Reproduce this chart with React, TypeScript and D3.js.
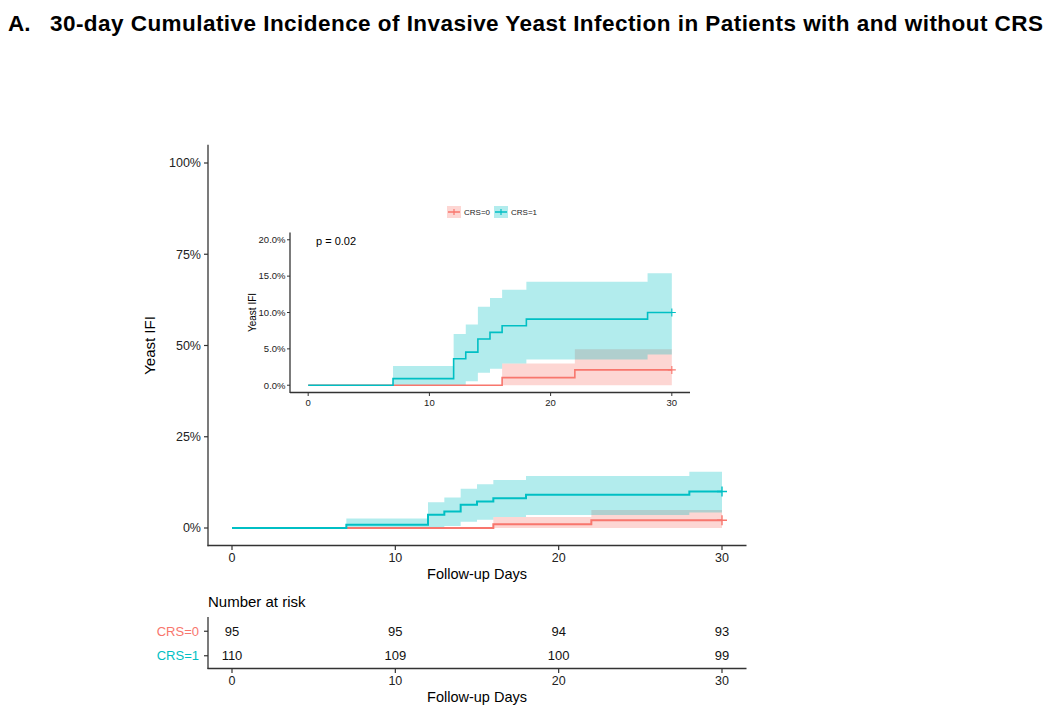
import React from "react";
import * as d3 from "d3";

// ---- data ----
const crs1Times = [0, 7, 12, 13, 14, 15, 16, 18, 28, 30];
const crs1Est = [0, 0.91, 3.64, 4.55, 6.36, 7.27, 8.18, 9.09, 10.0, 10.0];
const crs1Upper = [0, 2.63, 7.05, 8.34, 10.78, 11.98, 13.13, 14.24, 15.39, 15.39];
const crs1Lower = [0, 0, 0, 0.55, 1.7, 2.26, 3.0, 3.55, 4.24, 4.24];

const crs0Times = [0, 16, 22, 30];
const crs0Est = [0, 1.05, 2.11, 2.11];
const crs0Upper = [0, 3.0, 4.93, 4.93];
const crs0Lower = [0, 0, 0, 0];

const groups = ["CRS=0", "CRS=1"];
const colors = ["#F8766D", "#00BFC4"];
const riskTimes = [0, 10, 20, 30];
const risk0 = [95, 95, 94, 93];
const risk1 = [110, 109, 100, 99];
const xTicks = [0, 10, 20, 30];
const mainYTicks = [0, 25, 50, 75, 100];
const insetYTicks = [0, 5, 10, 15, 20];

const FONT = "'Liberation Sans', Arial, sans-serif";
const AX = "#333333";

type Pt = { t: number; e: number; lo: number; hi: number };
const mk = (t: number[], e: number[], lo: number[], hi: number[]): Pt[] =>
  t.map((v, i) => ({ t: v, e: e[i], lo: lo[i], hi: hi[i] }));
const series = [
  mk(crs0Times, crs0Est, crs0Lower, crs0Upper),
  mk(crs1Times, crs1Est, crs1Lower, crs1Upper),
];

function KM({
  x,
  y,
  lw,
  plus,
}: {
  x: d3.ScaleLinear<number, number>;
  y: d3.ScaleLinear<number, number>;
  lw: number;
  plus: number;
}) {
  const area = d3
    .area<Pt>()
    .x((d) => x(d.t))
    .y0((d) => y(d.lo))
    .y1((d) => y(d.hi))
    .curve(d3.curveStepAfter);
  const line = d3
    .line<Pt>()
    .x((d) => x(d.t))
    .y((d) => y(d.e))
    .curve(d3.curveStepAfter);
  return (
    <g>
      {series.map((s, i) => (
        <path key={"a" + i} d={area(s) || ""} fill={colors[i]} fillOpacity={0.3} stroke="none" />
      ))}
      {series.map((s, i) => {
        const last = s[s.length - 1];
        const cx = x(last.t);
        const cy = y(last.e);
        return (
          <g key={"l" + i}>
            <path d={line(s) || ""} fill="none" stroke={colors[i]} strokeWidth={lw} />
            <path
              d={`M${cx - plus},${cy}H${cx + plus}M${cx},${cy - plus}V${cy + plus}`}
              stroke={colors[i]}
              strokeWidth={lw * 0.7}
            />
          </g>
        );
      })}
    </g>
  );
}

export default function App() {
  // main plot
  const mx = d3.scaleLinear().domain([-1.5, 31.5]).range([207.5, 746.5]);
  const my = d3.scaleLinear().domain([-5, 105]).range([546.25, 144.75]);
  // inset
  const ix = d3.scaleLinear().domain([-1.5, 31.5]).range([290, 690]);
  const iy = d3.scaleLinear().domain([-1, 21]).range([392.5, 232.5]);
  // risk table
  const ry = d3.scaleBand().domain(groups).range([619, 668]).padding(0);
  const riskRows = [risk0, risk1];

  return (
    <svg
      width={1050}
      height={715}
      style={{ position: "absolute", left: 0, top: 0, background: "#fff" }}
      fontFamily={FONT}
    >
      <rect width={1050} height={715} fill="#fff" />
      {/* title */}
      <text x={8} y={31} fontSize={22.5} fontWeight="bold" fill="#000">A.</text>
      <text
        x={50}
        y={31}
        fontSize={22.5}
        fontWeight="bold"
        fill="#000"
        textLength={993}
        lengthAdjust="spacing"
      >
        30-day Cumulative Incidence of Invasive Yeast Infection in Patients with and without CRS
      </text>

      {/* main plot */}
      <KM x={mx} y={my} lw={2} plus={5} />
      <line x1={208} x2={208} y1={144.75} y2={546.25} stroke={AX} strokeWidth={1.3} />
      <line x1={207.5} x2={746.5} y1={545.5} y2={545.5} stroke={AX} strokeWidth={1.3} />
      {mainYTicks.map((v) => (
        <g key={"my" + v}>
          <line x1={204} x2={208} y1={my(v)} y2={my(v)} stroke={AX} strokeWidth={1.2} />
          <text x={201} y={my(v)} dy="0.35em" textAnchor="end" fontSize={12.5} fill="#222">
            {v + "%"}
          </text>
        </g>
      ))}
      {xTicks.map((v) => (
        <g key={"mx" + v}>
          <line x1={mx(v)} x2={mx(v)} y1={546} y2={550} stroke={AX} strokeWidth={1.2} />
          <text x={mx(v)} y={562} textAnchor="middle" fontSize={12.5} fill="#222">
            {v}
          </text>
        </g>
      ))}
      <text x={477} y={579} textAnchor="middle" fontSize={14.5} fill="#000">Follow-up Days</text>
      <text
        transform={`translate(155,${my(50)}) rotate(-90)`}
        textAnchor="middle"
        fontSize={15}
        fill="#000"
      >
        Yeast IFI
      </text>

      {/* inset */}
      <g>
        <KM x={ix} y={iy} lw={1.6} plus={4} />
        <line x1={290} x2={290} y1={232.5} y2={393} stroke={AX} strokeWidth={1.3} />
        <line x1={290} x2={690} y1={392.5} y2={392.5} stroke={AX} strokeWidth={1.3} />
        {insetYTicks.map((v) => (
          <g key={"iy" + v}>
            <line x1={287} x2={290} y1={iy(v)} y2={iy(v)} stroke={AX} strokeWidth={1} />
            <text x={285.5} y={iy(v)} dy="0.35em" textAnchor="end" fontSize={9.5} fill="#222">
              {v.toFixed(1) + "%"}
            </text>
          </g>
        ))}
        {xTicks.map((v) => (
          <g key={"ix" + v}>
            <line x1={ix(v)} x2={ix(v)} y1={393} y2={396} stroke={AX} strokeWidth={1} />
            <text x={ix(v)} y={406} textAnchor="middle" fontSize={9.5} fill="#222">
              {v}
            </text>
          </g>
        ))}
        <text
          transform={`translate(255.5,${iy(10)}) rotate(-90)`}
          textAnchor="middle"
          fontSize={10}
          fill="#000"
        >
          Yeast IFI
        </text>
        <text x={316} y={244.5} fontSize={11} fill="#000">p = 0.02</text>
        {/* legend */}
        {groups.map((g, i) => {
          const kx = i === 0 ? 447 : 494;
          const tx = i === 0 ? 464 : 511;
          return (
            <g key={"lg" + g}>
              <rect x={kx} y={206} width={14} height={12} fill={colors[i]} fillOpacity={0.3} />
              <line x1={kx + 1} x2={kx + 13} y1={212} y2={212} stroke={colors[i]} strokeWidth={1.5} />
              <line x1={kx + 7} x2={kx + 7} y1={209} y2={215} stroke={colors[i]} strokeWidth={1.2} />
              <text x={tx} y={212} dy="0.35em" fontSize={8} fill="#222">
                {g}
              </text>
            </g>
          );
        })}
      </g>

      {/* risk table */}
      <text x={208} y={607} fontSize={15} fill="#000">Number at risk</text>
      <line x1={208} x2={208} y1={617} y2={669} stroke={AX} strokeWidth={1.3} />
      <line x1={207.5} x2={746.5} y1={668.5} y2={668.5} stroke={AX} strokeWidth={1.3} />
      {groups.map((g, i) => {
        const cy = (ry(g) || 0) + ry.bandwidth() / 2;
        return (
          <g key={"r" + g}>
            <line x1={204} x2={208} y1={cy} y2={cy} stroke={AX} strokeWidth={1.2} />
            <text x={199} y={cy} dy="0.35em" textAnchor="end" fontSize={13} fill={colors[i]}>
              {g}
            </text>
            {riskTimes.map((t, j) => (
              <text key={t} x={mx(t)} y={cy} dy="0.35em" textAnchor="middle" fontSize={13} fill="#111">
                {riskRows[i][j]}
              </text>
            ))}
          </g>
        );
      })}
      {xTicks.map((v) => (
        <g key={"rx" + v}>
          <line x1={mx(v)} x2={mx(v)} y1={669} y2={673} stroke={AX} strokeWidth={1.2} />
          <text x={mx(v)} y={685} textAnchor="middle" fontSize={12.5} fill="#222">
            {v}
          </text>
        </g>
      ))}
      <text x={477} y={702} textAnchor="middle" fontSize={14.5} fill="#000">Follow-up Days</text>
    </svg>
  );
}
